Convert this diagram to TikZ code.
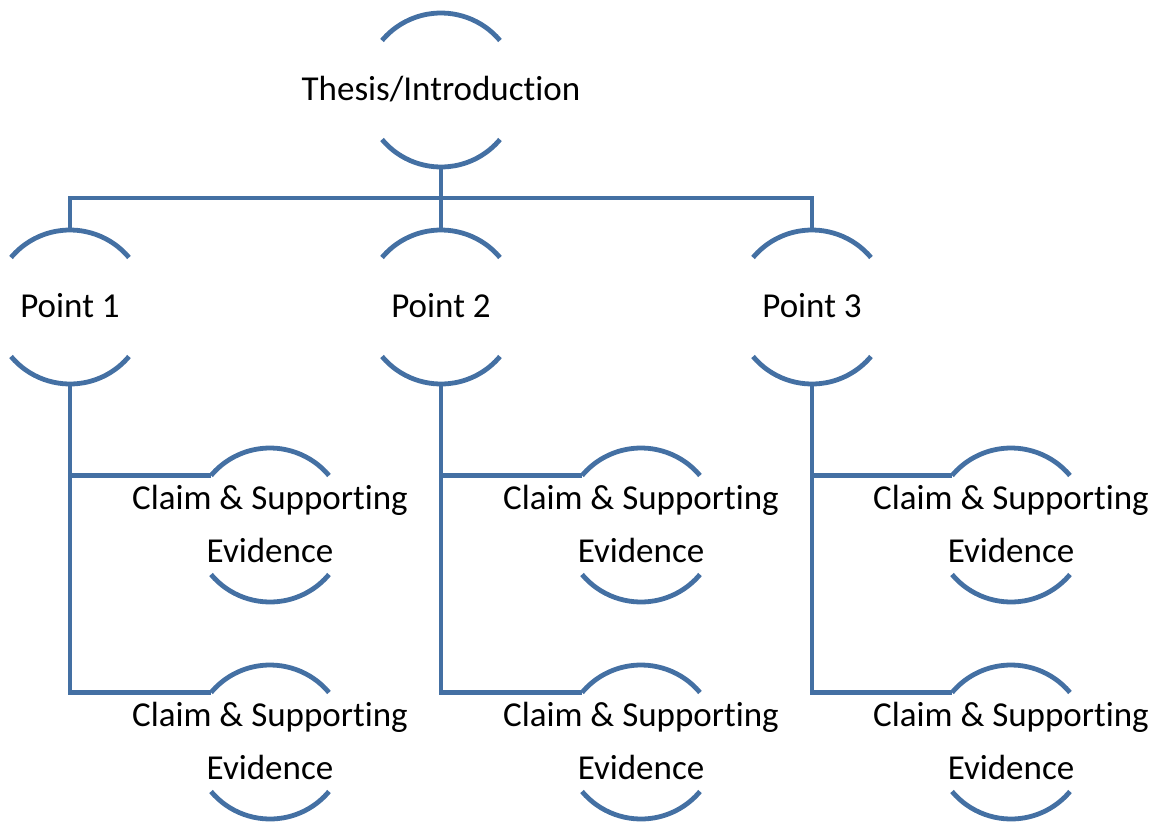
\documentclass[tikz,border=0pt]{standalone}
\usepackage{fontspec}
\setmainfont{Carlito}[Ligatures={NoCommon,NoRare,NoContextual}]
\definecolor{arcblue}{RGB}{68,112,163}
\newcommand{\bubbletext}[1]{\makebox[0pt]{\begin{tabular}{@{}c@{}}#1\end{tabular}}}
\newcommand{\bubblearcs}[1]{%
  \draw[conn] (#1.40) arc[start angle=40,end angle=140,radius=77pt];
  \draw[conn] (#1.-140) arc[start angle=-140,end angle=-40,radius=77pt];}
\begin{document}
\begin{tikzpicture}[x=1pt,y=1pt,
  bubble/.style={circle,minimum size=154pt,inner sep=0pt,outer sep=0pt,draw=none,
    text=black,font=\fontsize{35}{53}\selectfont},
  conn/.style={draw=arcblue,line width=4.8pt}]
\useasboundingbox (0,0) rectangle (1158,-822);
\node[bubble] (thesis) at (441,-90) {\bubbletext{Thesis/Introduction}};
\node[bubble] (p1) at (70,-307) {\bubbletext{Point 1}};
\node[bubble] (p2) at (441,-307) {\bubbletext{Point 2}};
\node[bubble] (p3) at (812,-307) {\bubbletext{Point 3}};
\node[bubble] (c11) at (270,-525) {\bubbletext{Claim \& Supporting\\Evidence}};
\node[bubble] (c12) at (270,-742) {\bubbletext{Claim \& Supporting\\Evidence}};
\node[bubble] (c21) at (641,-525) {\bubbletext{Claim \& Supporting\\Evidence}};
\node[bubble] (c22) at (641,-742) {\bubbletext{Claim \& Supporting\\Evidence}};
\node[bubble] (c31) at (1011,-525) {\bubbletext{Claim \& Supporting\\Evidence}};
\node[bubble] (c32) at (1011,-742) {\bubbletext{Claim \& Supporting\\Evidence}};
\foreach \n in {thesis,p1,p2,p3,c11,c12,c21,c22,c31,c32}{\bubblearcs{\n}}
\draw[conn] (thesis.south) -- (p2.north);
\draw[conn] (p1.north) -- ++(0,32) -| (p3.north);
\foreach \i in {1,2,3}{
  \draw[conn] (p\i.south) |- (c\i2.140);
  \draw[conn] (c\i1.140) -- (c\i1.140 -| p\i.south);
}
\end{tikzpicture}
\end{document}
